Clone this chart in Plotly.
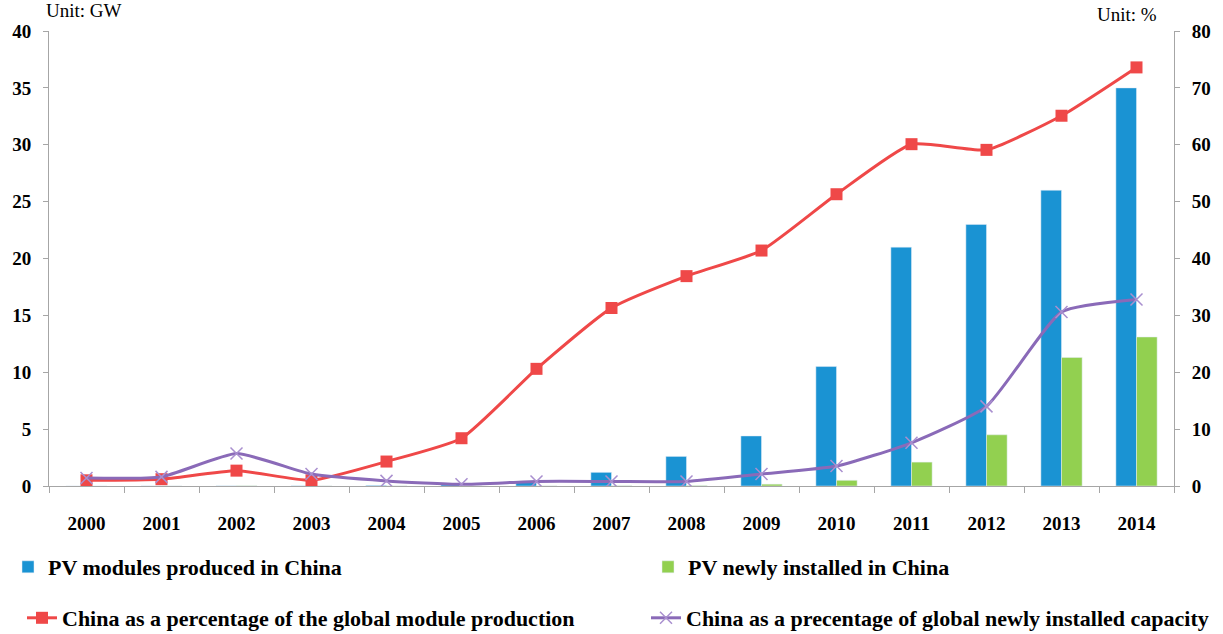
import plotly.graph_objects as go

years = [str(y) for y in range(2000, 2015)]
modules_gw = [0.003, 0.005, 0.01, 0.013, 0.05, 0.2, 0.4, 1.2, 2.6, 4.4, 10.5, 21.0, 23.0, 26.0, 35.0]
installed_gw = [0.003, 0.005, 0.02, 0.01, 0.01, 0.005, 0.01, 0.02, 0.04, 0.16, 0.5, 2.1, 4.5, 11.3, 13.1]
share_production = [1.0, 1.2, 2.7, 1.0, 4.3, 8.4, 20.6, 31.3, 36.9, 41.4, 51.3, 60.1, 59.1, 65.1, 73.6]
share_installed = [1.4, 1.6, 5.7, 2.1, 0.9, 0.3, 0.8, 0.8, 0.8, 2.1, 3.5, 7.6, 14.0, 30.6, 32.8]

left_ticks = [0, 5, 10, 15, 20, 25, 30, 35, 40]
right_ticks = [0, 10, 20, 30, 40, 50, 60, 70, 80]

SERIF = "Liberation Serif"
AXIS_COLOR = "#a6a6a6"
W, H = 1223, 634

fig = go.Figure()
fig.add_trace(go.Bar(x=years, y=modules_gw, name="PV modules produced in China",
                     marker_color="#1a93d3", legend="legend"))
fig.add_trace(go.Bar(x=years, y=installed_gw, name="PV newly installed in China",
                     marker_color="#92d050", legend="legend2"))
fig.add_trace(go.Scatter(x=years, y=share_production, yaxis="y2", mode="lines+markers",
                         name="China as a percentage of the global module production",
                         line=dict(color="#ef4848", width=3, shape="spline", smoothing=0.5),
                         marker=dict(symbol="square", size=12, color="#ef4848"),
                         legend="legend3"))
fig.add_trace(go.Scatter(x=years, y=share_installed, yaxis="y2", mode="lines+markers",
                         name="China as a precentage of global newly installed capacity",
                         line=dict(color="#8a6ab8", width=3, shape="spline", smoothing=0.5),
                         marker=dict(symbol="x-thin-open", size=12, color="#a98fcf",
                                     line=dict(width=1.5, color="#a98fcf")),
                         legend="legend4"))

tickfont = dict(family=SERIF, size=19, color="black", weight="bold")
legfont = dict(family=SERIF, size=22, color="black", weight="bold")


def leg(px_left, py_center):
    return dict(orientation="h", xref="container", yref="container",
                x=px_left / W, xanchor="left", y=1 - py_center / H, yanchor="middle",
                font=legfont, bgcolor="rgba(0,0,0,0)", borderwidth=0)


fig.update_layout(
    width=W, height=H,
    margin=dict(l=40, r=43, t=31, b=148),
    paper_bgcolor="white", plot_bgcolor="white",
    barmode="group", bargap=0.45, bargroupgap=0,
    showlegend=True,
    xaxis=dict(type="category", categoryorder="array", categoryarray=years,
               range=[-0.5, len(years) - 0.5],
               showline=True, linecolor=AXIS_COLOR, linewidth=1,
               ticks="outside", tickson="boundaries", ticklen=6, tickcolor=AXIS_COLOR,
               tickfont=tickfont, ticklabelstandoff=20, showgrid=False, zeroline=False),
    yaxis=dict(range=[0, 40], tickvals=left_ticks, showline=True, linecolor=AXIS_COLOR,
               ticks="outside", ticklen=5, tickcolor=AXIS_COLOR, tickfont=tickfont,
               showgrid=False, zeroline=False, ticklabelstandoff=8),
    yaxis2=dict(range=[0, 80], tickvals=right_ticks, overlaying="y", side="right",
                showline=True, linecolor=AXIS_COLOR, ticks="outside", ticklen=5,
                tickcolor=AXIS_COLOR, tickfont=tickfont, showgrid=False, zeroline=False,
                ticklabelstandoff=8),
    legend=leg(8, 567),
    legend2=leg(648, 567),
    legend3=leg(22, 618),
    legend4=leg(646, 618),
    annotations=[
        dict(text="Unit: GW", xref="paper", yref="paper", x=-0.0044, y=1.0, yshift=21,
             xanchor="left", yanchor="middle", showarrow=False,
             font=dict(family=SERIF, size=19, color="black")),
        dict(text="Unit: %", xref="paper", yref="paper", x=0.9868, y=1.0, yshift=17,
             xanchor="right", yanchor="middle", showarrow=False,
             font=dict(family=SERIF, size=19, color="black")),
    ],
)

fig.write_html("out.html", config={"displayModeBar": False},
               post_script="document.body.style.margin='0';")
